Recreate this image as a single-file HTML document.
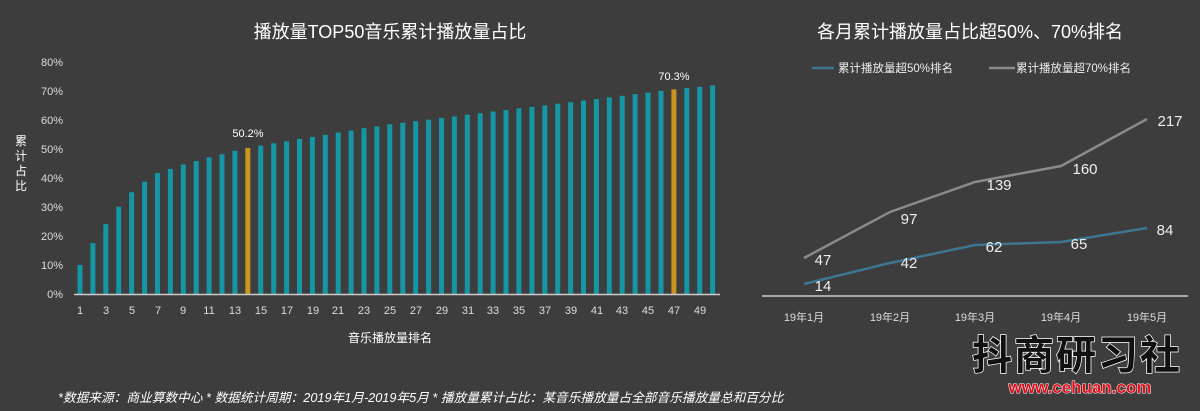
<!DOCTYPE html>
<html><head><meta charset="utf-8"><style>
body{margin:0;background:#3d3d3d;}
svg{display:block;font-family:"Liberation Sans","Noto Sans CJK SC",sans-serif;}
</style></head><body>
<svg width="1200" height="411" viewBox="0 0 1200 411" xmlns="http://www.w3.org/2000/svg">
<rect width="1200" height="411" fill="#3d3d3d"/>
<text x="390" y="38" fill="#fff" font-size="18" text-anchor="middle">播放量TOP50音乐累计播放量占比</text>
<text x="970" y="38" fill="#fff" font-size="18" text-anchor="middle">各月累计播放量占比超50%、70%排名</text>
<g fill="#ddd" font-size="11" text-anchor="end">
<text x="63" y="298">0%</text><text x="63" y="269">10%</text><text x="63" y="240">20%</text><text x="63" y="211">30%</text><text x="63" y="182">40%</text><text x="63" y="153">50%</text><text x="63" y="124">60%</text><text x="63" y="95">70%</text><text x="63" y="66">80%</text>
</g>
<g fill="#fff" font-size="12" text-anchor="middle"><text x="21" y="145">累</text><text x="21" y="160">计</text><text x="21" y="175">占</text><text x="21" y="190">比</text></g>
<g transform="translate(0,294) scale(1,-2.91)" fill="#1596a4">
<rect x="77.5" width="5" height="10"/><rect x="90.4" width="5" height="17.5"/><rect x="103.3" width="5" height="24"/><rect x="116.2" width="5" height="30"/><rect x="129.1" width="5" height="35"/><rect x="142.1" width="5" height="38.6"/><rect x="155" width="5" height="41.6"/><rect x="167.9" width="5" height="43"/><rect x="180.8" width="5" height="44.5"/><rect x="193.7" width="5" height="45.7"/><rect x="206.6" width="5" height="47"/><rect x="219.5" width="5" height="48"/><rect x="232.4" width="5" height="49.2"/><rect x="245.3" width="5" height="50.2" fill="#c8961e"/><rect x="258.2" width="5" height="51"/><rect x="271.2" width="5" height="51.8"/><rect x="284.1" width="5" height="52.5"/><rect x="297" width="5" height="53.3"/><rect x="309.9" width="5" height="54"/><rect x="322.8" width="5" height="54.7"/><rect x="335.7" width="5" height="55.5"/><rect x="348.6" width="5" height="56.2"/><rect x="361.5" width="5" height="57"/><rect x="374.4" width="5" height="57.6"/><rect x="387.3" width="5" height="58.3"/><rect x="400.3" width="5" height="58.85"/><rect x="413.2" width="5" height="59.4"/><rect x="426.1" width="5" height="59.9"/><rect x="439" width="5" height="60.5"/><rect x="451.9" width="5" height="61"/><rect x="464.8" width="5" height="61.6"/><rect x="477.7" width="5" height="62.1"/><rect x="490.6" width="5" height="62.7"/><rect x="503.5" width="5" height="63.2"/><rect x="516.4" width="5" height="63.8"/><rect x="529.4" width="5" height="64.3"/><rect x="542.3" width="5" height="64.8"/><rect x="555.2" width="5" height="65.4"/><rect x="568.1" width="5" height="65.9"/><rect x="581" width="5" height="66.5"/><rect x="593.9" width="5" height="67"/><rect x="606.8" width="5" height="67.6"/><rect x="619.7" width="5" height="68.1"/><rect x="632.6" width="5" height="68.7"/><rect x="645.5" width="5" height="69.2"/><rect x="658.5" width="5" height="69.8"/><rect x="671.4" width="5" height="70.3" fill="#c8961e"/><rect x="684.3" width="5" height="70.8"/><rect x="697.2" width="5" height="71.2"/><rect x="710.1" width="5" height="71.7"/>
</g>
<line x1="74" y1="294.5" x2="720" y2="294.5" stroke="#ccc" stroke-width="1.5"/>
<text x="248" y="137" fill="#fff" font-size="11" text-anchor="middle">50.2%</text>
<text x="674" y="80" fill="#fff" font-size="11" text-anchor="middle">70.3%</text>
<g fill="#ddd" font-size="11" text-anchor="middle">
<text x="80" y="314">1</text><text x="106" y="314">3</text><text x="132" y="314">5</text><text x="158" y="314">7</text><text x="183" y="314">9</text><text x="209" y="314">11</text><text x="235" y="314">13</text><text x="261" y="314">15</text><text x="287" y="314">17</text><text x="313" y="314">19</text><text x="338" y="314">21</text><text x="364" y="314">23</text><text x="390" y="314">25</text><text x="416" y="314">27</text><text x="442" y="314">29</text><text x="468" y="314">31</text><text x="493" y="314">33</text><text x="519" y="314">35</text><text x="545" y="314">37</text><text x="571" y="314">39</text><text x="597" y="314">41</text><text x="622" y="314">43</text><text x="648" y="314">45</text><text x="674" y="314">47</text><text x="700" y="314">49</text>
</g>
<text x="390" y="342" fill="#fff" font-size="12" text-anchor="middle">音乐播放量排名</text>

<line x1="812" y1="68" x2="834" y2="68" stroke="#3e7691" stroke-width="2.5"/>
<text x="838" y="72" fill="#eee" font-size="11.5">累计播放量超50%排名</text>
<line x1="989" y1="68" x2="1015" y2="68" stroke="#8a8a8a" stroke-width="2.5"/>
<text x="1016" y="72" fill="#eee" font-size="11.5">累计播放量超70%排名</text>
<polyline points="804,258 890,212 975,182 1061,166 1147,119" fill="none" stroke="#8a8a8a" stroke-width="2.5"/>
<polyline points="804,284 890,263 975,245 1061,242 1147,228" fill="none" stroke="#3e7691" stroke-width="2.5"/>
<line x1="762" y1="296" x2="1188" y2="296" stroke="#ccc" stroke-width="1.5"/>
<g fill="#eee" font-size="15" text-anchor="middle">
<text x="823" y="265">47</text><text x="909" y="224">97</text><text x="999" y="190">139</text><text x="1085" y="174">160</text><text x="1170" y="126">217</text>
<text x="823" y="291">14</text><text x="909" y="268">42</text><text x="994" y="252">62</text><text x="1079" y="249">65</text><text x="1165" y="235">84</text>
</g>
<g fill="#ddd" font-size="11" text-anchor="middle">
<text x="804" y="321">19年1月</text><text x="890" y="321">19年2月</text><text x="975" y="321">19年3月</text><text x="1061" y="321">19年4月</text><text x="1147" y="321">19年5月</text>
</g>
<text x="1077" y="369" fill="#111" stroke="#fff" stroke-width="1.5" paint-order="stroke" font-size="40" font-weight="bold" text-anchor="middle" style="font-family:'Noto Sans CJK SC',sans-serif" letter-spacing="2">抖商研习社</text>
<text x="1080" y="393" fill="#e0101a" stroke="#fff" stroke-width="1" paint-order="stroke" font-size="17" font-weight="bold" text-anchor="middle">www.cehuan.com</text>
<text x="58" y="402" fill="#fff" font-size="12.7" font-style="italic">*数据来源：商业算数中心 * 数据统计周期：2019年1月-2019年5月 * 播放量累计占比：某音乐播放量占全部音乐播放量总和百分比</text>
</svg>
</body></html>
